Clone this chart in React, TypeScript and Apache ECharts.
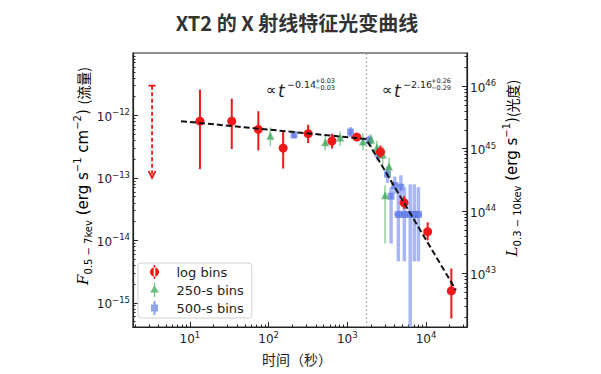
import React, { useEffect, useRef } from "react";
import * as echarts from "echarts";

// ---- log bins (red) : time (s), flux (erg s^-1 cm^-2) and flux bounds
const logT = [13.4, 34, 74, 153, 318, 638, 1320, 2640, 5270, 10500, 21000];
const logF = [8.1e-13, 8.1e-13, 6.0e-13, 3.0e-13, 5.1e-13, 3.9e-13, 4.5e-13, 2.6e-13, 4.0e-14, 1.38e-14, 1.55e-15];
const logFHi = [2.6e-12, 1.86e-12, 1.17e-12, 5.75e-13, 7.1e-13, 5.1e-13, 5.0e-13, 3.3e-13, 5.1e-14, 1.95e-14, 3.55e-15];
const logFLo = [1.38e-13, 2.9e-13, 2.75e-13, 1.41e-13, 3.6e-13, 2.95e-13, 4.0e-13, 2.1e-13, 3.2e-14, 1.0e-14, 5.6e-16];

// ---- 250-s bins (green)
const g250T = [105, 525, 810, 1580, 2000, 2370, 2820, 3390, 3020];
const g250F = [4.6e-13, 3.6e-13, 4.3e-13, 3.7e-13, 4.0e-13, 2.95e-13, 2.3e-13, 1.48e-13, 5.1e-14];
const g250FHi = [6.5e-13, 4.8e-13, 5.6e-13, 5.2e-13, 5.0e-13, 3.9e-13, 3.2e-13, 2.1e-13, 7.6e-14];
const g250FLo = [3.2e-13, 2.75e-13, 3.2e-13, 2.75e-13, 3.0e-13, 2.2e-13, 1.6e-13, 1.0e-13, 8.9e-15];

// ---- 500-s bins (blue)
const b500T = [210, 1100, 1900, 2450, 3240, 3600, 4000, 4800, 4450, 5300, 6300, 7100, 8000];
const b500F = [4.9e-13, 5.4e-13, 4.0e-13, 2.45e-13, 1.15e-13, 5.1e-14, 7.6e-14, 7.1e-14, 2.6e-14, 2.6e-14, 2.6e-14, 2.6e-14, 2.6e-14];
const b500FHi = [5.5e-13, 6.5e-13, 4.8e-13, 3.2e-13, 1.5e-13, 7.1e-14, 1.05e-13, 1.1e-13, 7.1e-14, 7.1e-14, 7.9e-14, 7.9e-14, 7.1e-14];
const b500FLo = [4.3e-13, 4.5e-13, 3.3e-13, 1.9e-13, 8.3e-14, 8.9e-15, 5.6e-14, 4.5e-14, 4.6e-15, 4.6e-15, 2.5e-16, 4.6e-15, 4.6e-15];
const b500TLo = [210, 1100, 1900, 2450, 3240, 3600, 4000, 4800, 3960, 4700, 5600, 6300, 7100];
const b500THi = [210, 1100, 1900, 2450, 3240, 3600, 4000, 4800, 5000, 5900, 7000, 8000, 8800];

// ---- early upper limit
const ulT = [3.3];
const ulFTop = [3.0e-12];
const ulFBottom = [1.0e-13];

// ---- broken power-law fit and break time
const fitT = [7.7, 1730, 24000];
const fitF = [8.1e-13, 4.2e-13, 1.6e-15];
const breakT = 1730;

// ---- axes
const tMin = 1.89;
const tMax = 33200;
const fMin = 4.1e-16;
const fMax = 1.0e-11;
const lumOffsetDex = 57.53; // log10(L / F)
const xTicks = [10, 100, 1000, 10000];
const fTicks = [1e-15, 1e-14, 1e-13, 1e-12];
const lTickExps = [43, 44, 45, 46];

const L = Math.log10;

function minorTicks(lo: number, hi: number) {
  const out: number[] = [];
  for (let d = Math.floor(lo) - 1; d <= Math.ceil(hi); d++) {
    for (let k = 2; k <= 9; k++) {
      const v = d + L(k);
      if (v > lo && v < hi) out.push(v);
    }
  }
  return out;
}

function errRender(
  marker: "circle" | "triangle" | "rect",
  fill: string,
  fillOpacity: number,
  err: string,
  errW: number,
  errOpacity: number,
  size: number
) {
  return (params: any, api: any) => {
    const x = api.value(0);
    const y = api.value(1);
    const p = api.coord([x, y]);
    const lo = api.coord([x, api.value(2)]);
    const hi = api.coord([x, api.value(3)]);
    const children: any[] = [];
    children.push({
      type: "line",
      shape: { x1: p[0], y1: lo[1], x2: p[0], y2: hi[1] },
      style: { stroke: err, lineWidth: errW, opacity: errOpacity },
    });
    const tl = api.coord([api.value(4), y]);
    const th = api.coord([api.value(5), y]);
    if (Math.abs(th[0] - tl[0]) > 1) {
      children.push({
        type: "line",
        shape: { x1: tl[0], y1: p[1], x2: th[0], y2: p[1] },
        style: { stroke: err, lineWidth: errW, opacity: errOpacity },
      });
    }
    const st = { fill, opacity: fillOpacity, stroke: "none" };
    if (marker === "circle") {
      children.push({ type: "circle", shape: { cx: p[0], cy: p[1], r: size / 2 }, style: st });
    } else if (marker === "triangle") {
      const h = size;
      children.push({
        type: "polygon",
        shape: {
          points: [
            [p[0], p[1] - h * 0.6],
            [p[0] - h / 2, p[1] + h * 0.4],
            [p[0] + h / 2, p[1] + h * 0.4],
          ],
        },
        style: st,
      });
    } else {
      children.push({
        type: "rect",
        shape: { x: p[0] - size / 2, y: p[1] - size / 2, width: size, height: size },
        style: st,
      });
    }
    return { type: "group", children };
  };
}

const tickFont = "DejaVu Sans";
const richTick = {
  b: { fontSize: 12, fontFamily: tickFont, color: "#222", verticalAlign: "bottom", padding: [3, 0, 0, 0] },
  s: { fontSize: 8.5, fontFamily: tickFont, color: "#222", verticalAlign: "top" },
};

export default function App() {
  const ref = useRef<HTMLDivElement>(null);
  useEffect(() => {
    const chart = echarts.init(ref.current!, null, { renderer: "svg" });

    const redData = logT.map((t, i) => [L(t), L(logF[i]), L(logFLo[i]), L(logFHi[i]), L(t), L(t)]);
    const greenData = g250T.map((t, i) => [L(t), L(g250F[i]), L(g250FLo[i]), L(g250FHi[i]), L(t), L(t)]);
    const blueData = b500T.map((t, i) => [
      L(t), L(b500F[i]), L(b500FLo[i]), L(b500FHi[i]), L(b500TLo[i]), L(b500THi[i]),
    ]);
    const ulData = ulT.map((t, i) => [L(t), L(ulFTop[i]), L(ulFBottom[i])]);
    const fitData = fitT.map((t, i) => [L(t), L(fitF[i])]);

    const xMin = L(tMin), xMax = L(tMax);
    const yMin = L(fMin), yMax = L(fMax);

    const annoFont = "DejaVu Sans";
    const anno = (x0: number, expo: string, up: string, dn: string) => [
      { type: "text", x: x0, y: 90, style: { text: "∝", fontSize: 15, fontFamily: annoFont, fill: "#222", verticalAlign: "middle" } },
      { type: "text", x: x0 + 12, y: 91, style: { text: "t", fontSize: 17, fontStyle: "italic", fontFamily: annoFont, fill: "#222", verticalAlign: "middle" } },
      { type: "text", x: x0 + 21, y: 84, style: { text: expo, fontSize: 9.5, fontFamily: annoFont, fill: "#222", verticalAlign: "middle" } },
      { type: "text", x: x0 + 49, y: 81, style: { text: up, fontSize: 6.5, fontFamily: annoFont, fill: "#222", verticalAlign: "middle" } },
      { type: "text", x: x0 + 49, y: 88, style: { text: dn, fontSize: 6.5, fontFamily: annoFont, fill: "#222", verticalAlign: "middle" } },
    ];

    const labelRich = {
      i: { fontSize: 15, fontStyle: "italic", fontFamily: "DejaVu Serif", color: "#222", padding: [3, 0, 3, 0] },
      n: { fontSize: 15, fontFamily: "DejaVu Sans", color: "#222", padding: [3, 0, 3, 0] },
      sub: { fontSize: 10, fontFamily: "DejaVu Sans", color: "#222", verticalAlign: "bottom" },
      sup: { fontSize: 10, fontFamily: "DejaVu Sans", color: "#222", verticalAlign: "top" },
      c: { fontSize: 14, fontFamily: "Noto Sans CJK SC", color: "#222", padding: [3, 0, 3, 0] },
    };

    const option: any = {
      animation: false,
      backgroundColor: "#fff",
      grid: { left: 133, right: 134, top: 53, bottom: 47, show: true, borderColor: "#222", borderWidth: 1.2 },
      legend: {
        left: 138,
        top: 263,
        orient: "vertical",
        itemWidth: 10,
        itemHeight: 14,
        itemGap: 4,
        padding: [2, 8, 3, 12],
        borderColor: "#d0d0d0",
        borderWidth: 1,
        borderRadius: 3,
        backgroundColor: "#fff",
        textStyle: { fontSize: 13, fontFamily: "DejaVu Sans", color: "#222", padding: [0, 0, 0, 12], lineHeight: 14 },
        data: [
          { name: "log bins", icon: "path://M4.2,0h1.6v14h-1.6z M5,2.5a4.5,4.5 0 1,0 0.01,0z", itemStyle: { color: "#f01818", opacity: 1 } },
          { name: "250-s bins", icon: "path://M4.4,0h1.2v14h-1.2z M5,2.2L9.3,9.6L0.7,9.6z", itemStyle: { color: "#3aa655", opacity: 0.75 } },
          { name: "500-s bins", icon: "path://M4,0h2v14h-2z M1.5,3.5h7v7h-7z", itemStyle: { color: "#4466dd", opacity: 0.6 } },
        ],
      },
      xAxis: [
        {
          type: "value", min: xMin, max: xMax, position: "bottom",
          axisLine: { show: true, lineStyle: { color: "#222", width: 1.2 } },
          axisTick: { show: true, inside: true, length: 5, customValues: xTicks.map(L), lineStyle: { color: "#222" } },
          axisLabel: {
            customValues: xTicks.map(L), margin: 3,
            formatter: (v: number) => `{b|10}{s|${Math.round(v)}}`,
            rich: richTick,
          },
          splitLine: { show: false },
        },
        {
          type: "value", min: xMin, max: xMax, position: "bottom",
          axisLine: { show: false },
          axisTick: { show: true, inside: true, length: 2.5, customValues: minorTicks(xMin, xMax), lineStyle: { color: "#222" } },
          axisLabel: { show: false },
          splitLine: { show: false },
        },
      ],
      yAxis: [
        {
          type: "value", min: yMin, max: yMax, position: "left",
          axisLine: { show: true, lineStyle: { color: "#222", width: 1.2 } },
          axisTick: { show: true, inside: true, length: 5, customValues: fTicks.map(L), lineStyle: { color: "#222" } },
          axisLabel: {
            customValues: fTicks.map(L), margin: 3,
            formatter: (v: number) => `{b|10}{s|−${-Math.round(v)}}`,
            rich: richTick,
          },
          splitLine: { show: false },
        },
        {
          type: "value", min: yMin + lumOffsetDex, max: yMax + lumOffsetDex, position: "right",
          axisLine: { show: true, lineStyle: { color: "#222", width: 1.2 } },
          axisTick: { show: true, inside: true, length: 5, customValues: lTickExps, lineStyle: { color: "#222" } },
          axisLabel: {
            customValues: lTickExps, margin: 3,
            formatter: (v: number) => `{b|10}{s|${Math.round(v)}}`,
            rich: richTick,
          },
          splitLine: { show: false },
        },
        {
          type: "value", min: yMin, max: yMax, position: "left",
          axisLine: { show: false },
          axisTick: { show: true, inside: true, length: 2.5, customValues: minorTicks(yMin, yMax), lineStyle: { color: "#222" } },
          axisLabel: { show: false },
          splitLine: { show: false },
        },
        {
          type: "value", min: yMin + lumOffsetDex, max: yMax + lumOffsetDex, position: "right",
          axisLine: { show: false },
          axisTick: { show: true, inside: true, length: 2.5, customValues: minorTicks(yMin + lumOffsetDex, yMax + lumOffsetDex), lineStyle: { color: "#222" } },
          axisLabel: { show: false },
          splitLine: { show: false },
        },
      ],
      series: [
        {
          name: "500-s bins", type: "custom", xAxisIndex: 0, yAxisIndex: 0, clip: true, z: 2,
          itemStyle: { color: "#4466dd" },
          encode: { x: 0, y: 1 },
          renderItem: errRender("rect", "#4466dd", 0.6, "#8d9ff3", 3.5, 0.75, 7),
          data: blueData,
        },
        {
          name: "250-s bins", type: "custom", xAxisIndex: 0, yAxisIndex: 0, clip: true, z: 3,
          itemStyle: { color: "#3aa655" },
          encode: { x: 0, y: 1 },
          renderItem: errRender("triangle", "#3aa655", 0.75, "#6cc27a", 1.6, 0.7, 8),
          data: greenData,
        },
        {
          name: "log bins", type: "custom", xAxisIndex: 0, yAxisIndex: 0, clip: true, z: 4,
          itemStyle: { color: "#f01818" },
          encode: { x: 0, y: 1 },
          renderItem: errRender("circle", "#f01818", 1, "#f01818", 2, 1, 9),
          data: redData,
        },
        {
          name: "upper limit", type: "custom", xAxisIndex: 0, yAxisIndex: 0, clip: true, z: 4,
          encode: { x: 0, y: 1 },
          renderItem: (params: any, api: any) => {
            const top = api.coord([api.value(0), api.value(1)]);
            const bot = api.coord([api.value(0), api.value(2)]);
            const s = { stroke: "#f01818", lineWidth: 1.8 };
            return {
              type: "group",
              children: [
                { type: "line", shape: { x1: top[0], y1: top[1], x2: bot[0], y2: bot[1] - 1 }, style: { ...s, lineDash: [4, 2.5] } },
                { type: "line", shape: { x1: top[0] - 3.5, y1: top[1], x2: top[0] + 3.5, y2: top[1] }, style: s },
                { type: "polyline", shape: { points: [[bot[0] - 3.5, bot[1] - 7], [bot[0], bot[1]], [bot[0] + 3.5, bot[1] - 7]] }, style: { ...s, fill: "none" } },
              ],
            };
          },
          data: ulData,
        },
        {
          name: "fit", type: "line", xAxisIndex: 0, yAxisIndex: 0, z: 6,
          symbol: "none",
          lineStyle: { color: "#111", width: 2, type: [6, 3] },
          data: fitData,
          markLine: {
            silent: true, symbol: "none", label: { show: false }, z: 1,
            lineStyle: { color: "#9a9a9a", width: 1.2, type: [1.5, 2.5] },
            data: [{ xAxis: L(breakT) }],
          },
        },
      ],
      graphic: [
        {
          type: "text", x: 297, y: 22,
          style: { text: "XT2 的 X 射线特征光变曲线", fontSize: 20, fontWeight: "bold", fontFamily: "Noto Sans CJK SC", fill: "#333", align: "center", verticalAlign: "middle" },
        },
        {
          type: "text", x: 297, y: 359,
          style: { text: "时间（秒）", fontSize: 14, fontFamily: "Noto Sans CJK SC", fill: "#222", align: "center", verticalAlign: "middle" },
        },
        {
          type: "text", x: 83, y: 176, rotation: Math.PI / 2,
          style: {
            text: "{i|F}{sub|0.5 − 7kev}{n| (erg s}{sup|−1}{n| cm}{sup|−2}{n|) }{c|(流量)}",
            rich: labelRich, align: "center", verticalAlign: "middle",
          },
        },
        {
          type: "text", x: 512, y: 168, rotation: Math.PI / 2,
          style: {
            text: "{i|L}{sub|0.3 − 10kev}{n| (erg s}{sup|−1}{n|)}{c|(光度)}",
            rich: labelRich, align: "center", verticalAlign: "middle",
          },
        },
        ...anno(266, "−0.14", "+0.03", "−0.03"),
        ...anno(382, "−2.16", "+0.26", "−0.29"),
      ],
    };
    chart.setOption(option);
    return () => chart.dispose();
  }, []);
  return <div ref={ref} style={{ position: "fixed", left: 0, top: 0, width: 601, height: 374, background: "#fff" }} />;
}
